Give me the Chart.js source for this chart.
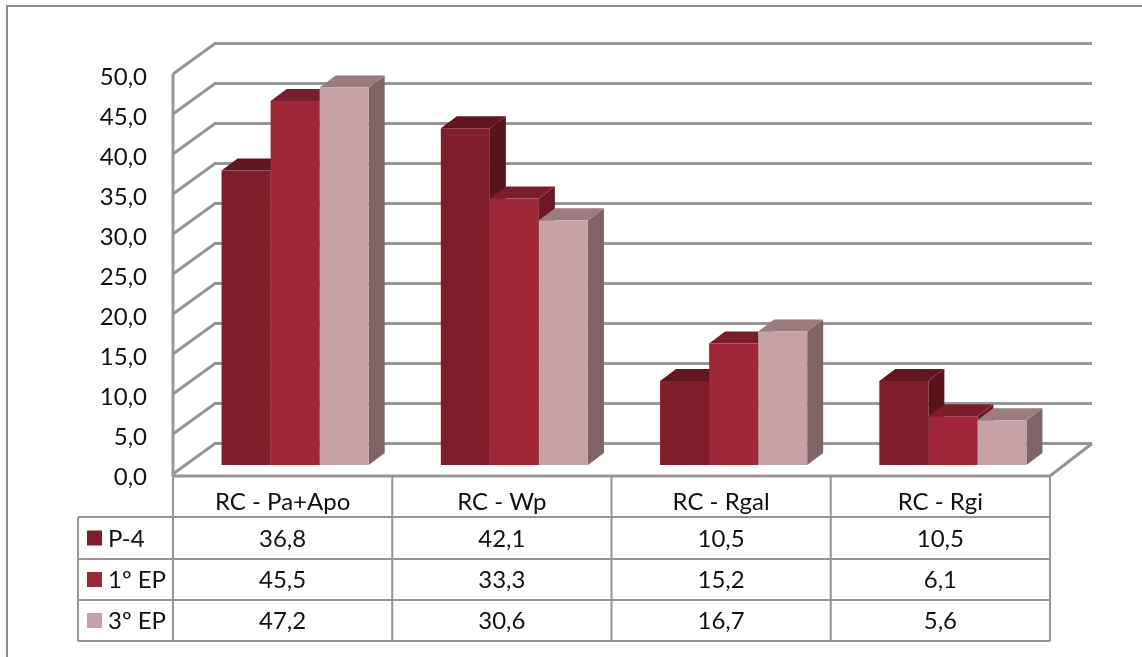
<!DOCTYPE html>
<html>
<head>
<meta charset="utf-8">
<title>RC</title>
<script src="https://cdn.jsdelivr.net/npm/chart.js@4"></script>
<style>
  html, body { margin: 0; padding: 0; background: #fff; }
  #wrap { position: relative; width: 1142px; height: 657px; }
</style>
</head>
<body>
<div id="wrap"><canvas id="mycanvas" width="1142" height="657"></canvas></div>
<script>
var categories = ["RC - Pa+Apo", "RC - Wp", "RC - Rgal", "RC - Rgi"];
var seriesNames = ["P-4", "1º EP", "3º EP"];
var p4 = [36.8, 42.1, 10.5, 10.5];
var ep1 = [45.5, 33.3, 15.2, 6.1];
var ep3 = [47.2, 30.6, 16.7, 5.6];

var frontColors = ["#7f1d2a", "#9e2837", "#c6a2a6"];
var topColors = ["#641620", "#7b1e2b", "#9a7b7e"];
var sideColors = ["#59131c", "#6b1a25", "#806466"];

var lineGray = "#969696";
var fontName = "Lato, Carlito, sans-serif";
var fontSize = 24;

function comma(v) {
  return Number(v).toFixed(1).replace(".", ",");
}

// bars sit inside the box, wall is further back
var bar = { dx: 12.5, dy: -9, depthX: 16, depthY: -12 };
var wall = { dx: 42, dy: -30.5 };

function line(ctx, pts) {
  ctx.beginPath();
  ctx.moveTo(pts[0][0], pts[0][1]);
  for (var i = 1; i < pts.length; i++) ctx.lineTo(pts[i][0], pts[i][1]);
  ctx.stroke();
}

function face(ctx, pts, color) {
  ctx.fillStyle = color;
  ctx.beginPath();
  ctx.moveTo(pts[0][0], pts[0][1]);
  for (var i = 1; i < pts.length; i++) ctx.lineTo(pts[i][0], pts[i][1]);
  ctx.closePath();
  ctx.fill();
}

var box3d = {
  id: "box3d",
  beforeDatasetsDraw: function(chart) {
    var ctx = chart.ctx, a = chart.chartArea, y = chart.scales.y;
    ctx.save();
    ctx.strokeStyle = lineGray;
    ctx.lineWidth = 3;
    y.ticks.forEach(function(t) {
      var py = y.getPixelForValue(t.value);
      line(ctx, [[a.left, py], [a.left + wall.dx, py + wall.dy], [a.right + wall.dx, py + wall.dy]]);
    });
    line(ctx, [[a.left, a.top], [a.left, a.bottom + 2]]);
    var by = a.bottom + 2;
    line(ctx, [[a.left, by], [a.right, by], [a.right + wall.dx, a.bottom + wall.dy]]);

    // sides and tops go first so the front faces cover them
    for (var c = 0; c < categories.length; c++) {
      for (var s = 0; s < seriesNames.length; s++) {
        var b = chart.getDatasetMeta(s).data[c];
        var l = b.x - b.width / 2 + bar.dx, r = b.x + b.width / 2 + bar.dx;
        var t = b.y + bar.dy, f = b.base + bar.dy;
        face(ctx, [[r, t], [r + bar.depthX, t + bar.depthY], [r + bar.depthX, f + bar.depthY], [r, f]], sideColors[s]);
        face(ctx, [[l, t], [l + bar.depthX, t + bar.depthY], [r + bar.depthX, t + bar.depthY], [r, t]], topColors[s]);
      }
    }
    ctx.restore();
  },
  beforeDatasetDraw: function(chart) {
    chart.ctx.save();
    chart.ctx.translate(bar.dx, bar.dy);
  },
  afterDatasetDraw: function(chart) {
    chart.ctx.restore();
  },
  afterDraw: function(chart) {
    var ctx = chart.ctx, a = chart.chartArea, x = chart.scales.x;
    var rows = [p4, ep1, ep3];
    var rowY = [517, 559, 600, 641];
    var tableLeft = 78;
    var catW = (a.right - a.left) / categories.length;
    ctx.save();

    // page frame
    ctx.strokeStyle = "#8c8c8c";
    ctx.lineWidth = 2;
    line(ctx, [[7, 657], [7, 6], [1142, 6]]);

    ctx.strokeStyle = lineGray;
    ctx.lineWidth = 2;
    rowY.forEach(function(py) {
      line(ctx, [[tableLeft, py], [a.right, py]]);
    });
    line(ctx, [[tableLeft, rowY[0]], [tableLeft, rowY[3]]]);
    for (var i = 0; i <= categories.length; i++) {
      var vx = a.left + catW * i;
      line(ctx, [[vx, a.bottom + 2], [vx, rowY[3]]]);
    }

    ctx.font = fontSize + "px " + fontName;
    ctx.textBaseline = "middle";
    for (var s = 0; s < rows.length; s++) {
      var cy = (rowY[s] + rowY[s + 1]) / 2;
      ctx.fillStyle = frontColors[s];
      ctx.fillRect(87, cy - 7.5, 15, 15);
      ctx.fillStyle = "#111";
      ctx.textAlign = "left";
      ctx.fillText(seriesNames[s], 108, cy + 1);
      ctx.textAlign = "center";
      for (var c = 0; c < categories.length; c++) {
        ctx.fillText(comma(rows[s][c]), x.getPixelForValue(c), cy + 1);
      }
    }
    ctx.restore();
  }
};

var ctx = document.getElementById("mycanvas");
var barGraph = new Chart(ctx, {
  type: "bar",
  data: {
    labels: categories,
    datasets: [
      { label: seriesNames[0], data: p4, backgroundColor: frontColors[0], clip: false },
      { label: seriesNames[1], data: ep1, backgroundColor: frontColors[1], clip: false },
      { label: seriesNames[2], data: ep3, backgroundColor: frontColors[2], clip: false }
    ]
  },
  options: {
    responsive: false,
    animation: false,
    events: [],
    categoryPercentage: 0.671,
    barPercentage: 1,
    layout: { padding: { left: 0, top: 74, right: 92, bottom: 0 } },
    plugins: { legend: { display: false }, tooltip: { enabled: false } },
    scales: {
      x: {
        grid: { display: false },
        border: { display: false },
        ticks: { color: "#111", font: { family: fontName, size: fontSize }, padding: 6, maxRotation: 0 },
        afterFit: function(s) { s.height = 183; }
      },
      y: {
        min: 0,
        max: 50,
        grid: { display: false },
        border: { display: false },
        ticks: {
          stepSize: 5,
          color: "#111",
          padding: 18,
          labelOffset: 3,
          font: { family: fontName, size: fontSize },
          callback: function(v) { return comma(v); }
        },
        afterFit: function(s) { s.width = 173; }
      }
    }
  },
  plugins: [box3d]
});
</script>
</body>
</html>
